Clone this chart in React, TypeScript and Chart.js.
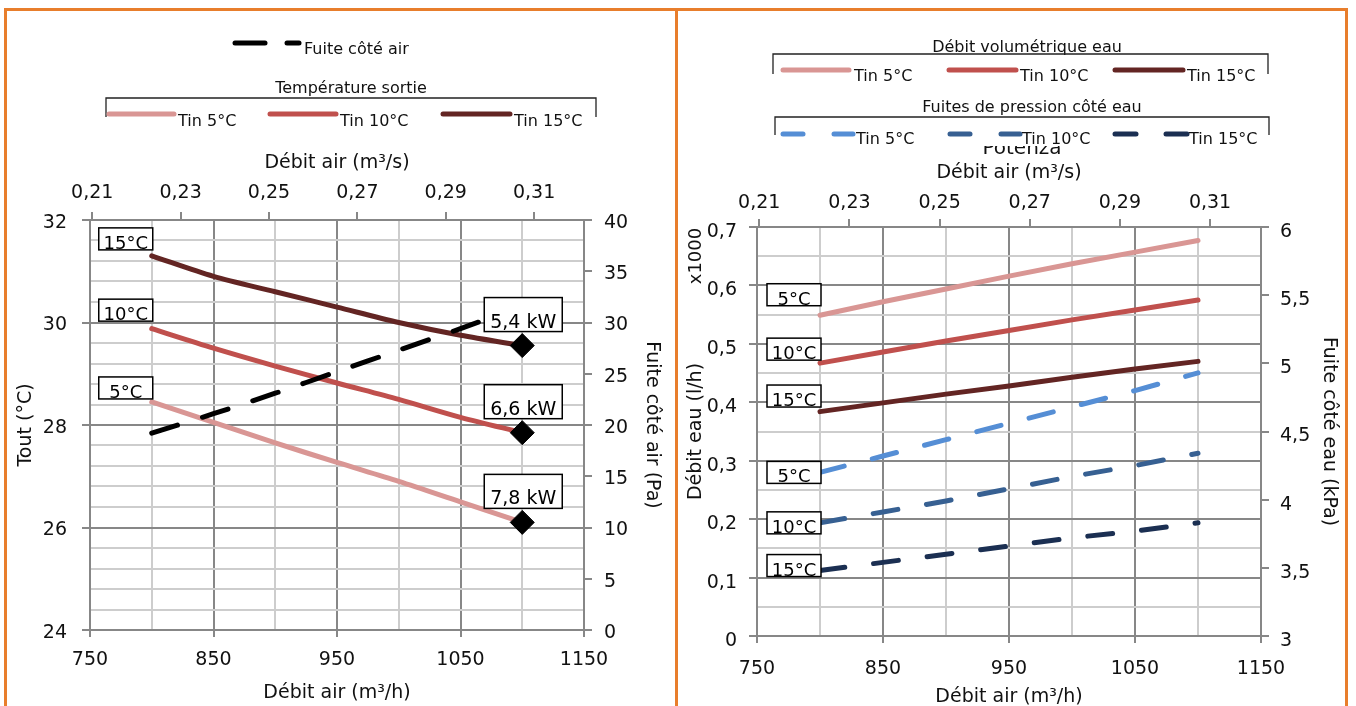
import React, { useEffect, useRef } from 'react';
import { Chart, registerables } from 'chart.js';

Chart.register(...registerables);

const FONT = '"DejaVu Sans", "Liberation Sans", Arial, sans-serif';
const TEXT = '#111111';
const GRID_MAJOR = '#878787';
const GRID_MINOR = '#CDCDCD';
const ORANGE = '#E87E2C';

const PINK = '#D99694';
const RED = '#C0504D';
const BROWN = '#632523';
const BLUE_L = '#558ED5';
const BLUE_M = '#376092';
const BLUE_D = '#1B2F52';

const TICK_SIZE = 19;
const TITLE_SIZE = 19;
const LEG_SIZE = 16;
const BOX_SIZE = 18;

// ---------- data ----------
const airFlow = [800, 850, 900, 950, 1000, 1050, 1100];

const toutTin5 = [28.45, 28.05, 27.65, 27.27, 26.9, 26.5, 26.1];
const toutTin10 = [29.88, 29.5, 29.15, 28.82, 28.5, 28.15, 27.85];
const toutTin15 = [31.3, 30.9, 30.6, 30.3, 30.0, 29.75, 29.55];
const fuiteAir = [19.2, 21.1, 23.1, 25.2, 27.3, 29.4, 31.6];
const powerLabels = ['7,8 kW', '6,6 kW', '5,4 kW'];

const debitEauTin5 = [0.549, 0.572, 0.594, 0.616, 0.637, 0.657, 0.677];
const debitEauTin10 = [0.467, 0.486, 0.505, 0.523, 0.541, 0.558, 0.575];
const debitEauTin15 = [0.384, 0.399, 0.414, 0.428, 0.443, 0.457, 0.47];
const fuiteEauTin5 = [4.2, 4.32, 4.44, 4.56, 4.68, 4.8, 4.93];
const fuiteEauTin10 = [3.83, 3.91, 3.99, 4.08, 4.17, 4.25, 4.34];
const fuiteEauTin15 = [3.48, 3.54, 3.6, 3.66, 3.72, 3.77, 3.83];

const seriesNames = ['Tin 5°C', 'Tin 10°C', 'Tin 15°C'];
const tempLabels = ['5°C', '10°C', '15°C'];

// ---------- ticks ----------
const xTicksM3h = [750, 850, 950, 1050, 1150];
const xMinorM3h = [800, 900, 1000, 1100];
const xTicksM3s = [0.21, 0.23, 0.25, 0.27, 0.29, 0.31];
const toutTicks = [24, 26, 28, 30, 32];
const fuiteAirTicks = [0, 5, 10, 15, 20, 25, 30, 35, 40];
const debitEauTicks = [0, 0.1, 0.2, 0.3, 0.4, 0.5, 0.6, 0.7];
const debitEauMinor = [0.05, 0.15, 0.25, 0.35, 0.45, 0.55, 0.65];
const fuiteEauTicks = [3, 3.5, 4, 4.5, 5, 5.5, 6];

const toutGrid: number[] = [];
for (let k = 0; k <= 20; k++) toutGrid.push(Math.round((24 + 0.4 * k) * 10) / 10);

const fmt = (v: number) => String(v).replace('.', ',');
const near = (arr: number[], v: number) => arr.some((t) => Math.abs(t - v) < 1e-6);
const pts = (ys: number[]) => airFlow.map((x, i) => ({ x, y: ys[i] }));

const gridColor = (majors: number[]) => (ctx: any) =>
  ctx.tick && near(majors, ctx.tick.value) ? GRID_MAJOR : GRID_MINOR;
const tickCol = (majors: number[]) => (ctx: any) =>
  ctx.tick && near(majors, ctx.tick.value) ? GRID_MAJOR : 'rgba(0,0,0,0)';

function bottomAxis(height: number, tickPad: number, titlePad: number) {
  const all = [...xTicksM3h, ...xMinorM3h].sort((a, b) => a - b);
  return {
    type: 'linear',
    position: 'bottom',
    min: 750,
    max: 1150,
    afterBuildTicks: (s: any) => {
      s.ticks = all.map((value) => ({ value }));
    },
    afterFit: (s: any) => {
      s.height = height;
    },
    ticks: {
      autoSkip: false,
      maxRotation: 0,
      padding: tickPad,
      color: TEXT,
      font: { size: TICK_SIZE },
      callback: (v: any) => (near(xTicksM3h, v) ? fmt(v) : ''),
    },
    grid: {
      color: gridColor(xTicksM3h),
      lineWidth: 2,
      tickLength: 7,
      tickWidth: 2,
      tickColor: tickCol(xTicksM3h),
    },
    border: { color: GRID_MAJOR, width: 2 },
    title: {
      display: true,
      text: 'Débit air (m³/h)',
      color: TEXT,
      font: { size: TITLE_SIZE },
      padding: { top: 0, bottom: titlePad },
    },
  };
}

function topAxis(height: number, tickPad: number, titlePad: number) {
  return {
    type: 'linear',
    position: 'top',
    min: 0.2095,
    max: 0.3213,
    afterBuildTicks: (s: any) => {
      s.ticks = xTicksM3s.map((value) => ({ value }));
    },
    afterFit: (s: any) => {
      s.height = height;
    },
    ticks: {
      autoSkip: false,
      maxRotation: 0,
      padding: tickPad,
      color: TEXT,
      font: { size: TICK_SIZE },
      callback: (v: any) => fmt(v),
    },
    grid: { drawOnChartArea: false, color: GRID_MAJOR, lineWidth: 2, tickLength: 8 },
    border: { color: GRID_MAJOR, width: 2 },
    title: {
      display: true,
      text: 'Débit air (m³/s)',
      color: TEXT,
      font: { size: TITLE_SIZE },
      padding: { top: titlePad, bottom: 0 },
    },
  };
}

function yAxis(o: {
  position: string;
  min: number;
  max: number;
  majors: number[];
  grid: number[];
  width: number;
  tickPad: number;
  labelOffset: number;
  title: string;
  titlePad: number;
  onArea: boolean;
}) {
  return {
    type: 'linear',
    position: o.position,
    min: o.min,
    max: o.max,
    afterBuildTicks: (s: any) => {
      s.ticks = o.grid.map((value) => ({ value }));
    },
    afterFit: (s: any) => {
      s.width = o.width;
    },
    ticks: {
      autoSkip: false,
      padding: o.tickPad,
      labelOffset: o.labelOffset,
      color: TEXT,
      font: { size: TICK_SIZE },
      callback: (v: any) => (near(o.majors, v) ? fmt(v) : ''),
    },
    grid: {
      drawOnChartArea: o.onArea,
      color: gridColor(o.majors),
      lineWidth: 2,
      tickLength: 8,
      tickWidth: 2,
      tickColor: tickCol(o.majors),
    },
    border: { color: GRID_MAJOR, width: 2 },
    title: {
      display: true,
      text: o.title,
      color: TEXT,
      font: { size: TITLE_SIZE },
      padding: { top: o.titlePad, bottom: 0 },
    },
  };
}

// ---------- drawing helpers ----------
function drawBox(ctx: CanvasRenderingContext2D, x: number, y: number, w: number, h: number, s: string, size: number, base: number) {
  ctx.save();
  ctx.fillStyle = '#ffffff';
  ctx.fillRect(x, y, w, h);
  ctx.strokeStyle = '#000000';
  ctx.lineWidth = 1.5;
  ctx.strokeRect(x, y, w, h);
  ctx.fillStyle = '#000000';
  ctx.font = `${size}px ${FONT}`;
  ctx.textAlign = 'center';
  ctx.textBaseline = 'alphabetic';
  ctx.fillText(s, x + w / 2, y + h - base);
  ctx.restore();
}

function text(ctx: CanvasRenderingContext2D, s: string, x: number, y: number, size: number, align: CanvasTextAlign = 'left') {
  ctx.save();
  ctx.fillStyle = TEXT;
  ctx.font = `${size}px ${FONT}`;
  ctx.textAlign = align;
  ctx.textBaseline = 'middle';
  ctx.fillText(s, x, y);
  ctx.restore();
}

function seg(ctx: CanvasRenderingContext2D, x1: number, x2: number, y: number, color: string) {
  ctx.save();
  ctx.strokeStyle = color;
  ctx.lineWidth = 5;
  ctx.lineCap = 'round';
  ctx.beginPath();
  ctx.moveTo(x1, y);
  ctx.lineTo(x2, y);
  ctx.stroke();
  ctx.restore();
}

function bracket(ctx: CanvasRenderingContext2D, x1: number, x2: number, y: number, yEnd: number) {
  ctx.save();
  ctx.strokeStyle = '#222222';
  ctx.lineWidth = 1.3;
  ctx.beginPath();
  ctx.moveTo(x1, yEnd);
  ctx.lineTo(x1, y);
  ctx.lineTo(x2, y);
  ctx.lineTo(x2, yEnd);
  ctx.stroke();
  ctx.restore();
}

// ---------- left chart ----------
function leftConfig() {
  const powerPts = [toutTin5, toutTin10, toutTin15].map((s) => ({ x: airFlow[airFlow.length - 1], y: s[s.length - 1] }));
  const lineDs = (label: string, ys: number[], color: string) => ({
    label,
    data: pts(ys),
    yAxisID: 'y',
    borderColor: color,
    backgroundColor: color,
    borderWidth: 5,
    borderCapStyle: 'round',
    borderJoinStyle: 'round',
    pointRadius: 0,
    tension: 0.3,
    order: 2,
  });
  const decor = {
    id: 'leftDecor',
    afterDatasetsDraw(chart: any) {
      const ctx = chart.ctx as CanvasRenderingContext2D;
      const dys = [-14, -18.5, -17];
      [2, 3, 4].forEach((di, k) => {
        const p = chart.getDatasetMeta(di).data[0];
        drawBox(ctx, p.x - 53, p.y + dys[k] - 11, 54, 22, tempLabels[k], BOX_SIZE, 1);
      });
      chart.getDatasetMeta(0).data.forEach((p: any, k: number) => {
        drawBox(ctx, p.x - 38, p.y - 48, 78, 34, powerLabels[k], 19, 4);
      });
    },
    afterDraw(chart: any) {
      const ctx = chart.ctx as CanvasRenderingContext2D;
      seg(ctx, 235, 265, 43, '#000000');
      seg(ctx, 287, 299, 43, '#000000');
      text(ctx, 'Fuite côté air', 304, 50, LEG_SIZE);
      text(ctx, 'Température sortie', 351, 89, LEG_SIZE, 'center');
      bracket(ctx, 106, 596, 98, 117);
      const cols = [PINK, RED, BROWN];
      const xs = [[109, 174, 178], [270, 336, 340], [443, 510, 514]];
      xs.forEach((a, k) => {
        seg(ctx, a[0], a[1], 114, cols[k]);
        text(ctx, seriesNames[k], a[2], 122, LEG_SIZE);
      });
    },
  };
  return {
    type: 'line',
    data: {
      datasets: [
        {
          label: 'Puissance',
          data: powerPts,
          yAxisID: 'y',
          showLine: false,
          pointStyle: 'rectRot',
          pointRadius: 12,
          pointBackgroundColor: '#000000',
          pointBorderColor: '#000000',
          pointBorderWidth: 1,
          order: 0,
        },
        {
          label: 'Fuite côté air',
          data: pts(fuiteAir),
          yAxisID: 'y2',
          borderColor: '#000000',
          backgroundColor: '#000000',
          borderWidth: 5,
          borderDash: [27, 26],
          borderCapStyle: 'round',
          pointRadius: 0,
          tension: 0.3,
          order: 1,
        },
        lineDs(seriesNames[0], toutTin5, PINK),
        lineDs(seriesNames[1], toutTin10, RED),
        lineDs(seriesNames[2], toutTin15, BROWN),
      ],
    },
    options: {
      responsive: false,
      maintainAspectRatio: false,
      animation: false,
      devicePixelRatio: 1,
      events: [],
      layout: { padding: 0 },
      plugins: { legend: { display: false }, tooltip: { enabled: false } },
      scales: {
        x: bottomAxis(76, 12, 1.6),
        x2: topAxis(220, 7.6, 151.6),
        y: yAxis({
          position: 'left', min: 24, max: 32, majors: toutTicks, grid: toutGrid, width: 90,
          tickPad: 15, labelOffset: 3, title: 'Tout (°C)', titlePad: 14.6, onArea: true,
        }),
        y2: yAxis({
          position: 'right', min: 0, max: 40, majors: fuiteAirTicks, grid: fuiteAirTicks, width: 94,
          tickPad: 12, labelOffset: 3, title: 'Fuite côté air (Pa)', titlePad: 14.6, onArea: false,
        }),
      },
    },
    plugins: [decor],
  };
}

// ---------- right chart ----------
function rightConfig() {
  const ds = (label: string, ys: number[], color: string, axis: string, dashed: boolean) => ({
    label,
    data: pts(ys),
    yAxisID: axis,
    borderColor: color,
    backgroundColor: color,
    borderWidth: 5,
    borderCapStyle: 'round',
    borderJoinStyle: 'round',
    borderDash: dashed ? [25, 29] : [],
    pointRadius: 0,
    tension: 0,
  });
  const decor = {
    id: 'rightDecor',
    afterDatasetsDraw(chart: any) {
      const ctx = chart.ctx as CanvasRenderingContext2D;
      const dys = [-20.5, -14, -15.6, 0, 0, -5];
      for (let di = 0; di < 6; di++) {
        const p = chart.getDatasetMeta(di).data[0];
        drawBox(ctx, p.x - 53, p.y + dys[di] - 11, 54, 22, tempLabels[di % 3], BOX_SIZE, 1);
      }
    },
    afterDraw(chart: any) {
      const ctx = chart.ctx as CanvasRenderingContext2D;
      // chart title hidden behind the legend
      ctx.save();
      ctx.fillStyle = TEXT;
      ctx.font = `20px ${FONT}`;
      ctx.textAlign = 'center';
      ctx.textBaseline = 'alphabetic';
      ctx.fillText('Potenza', 344, 154);
      ctx.fillStyle = '#ffffff';
      ctx.fillRect(90, 0, 506, 146);
      ctx.restore();

      text(ctx, 'Débit volumétrique eau', 349, 48, LEG_SIZE, 'center');
      bracket(ctx, 95, 590, 54, 74);
      const solid = [PINK, RED, BROWN];
      const sx = [[105, 171, 176], [271, 338, 342], [437, 505, 509]];
      sx.forEach((a, k) => {
        seg(ctx, a[0], a[1], 70, solid[k]);
        text(ctx, seriesNames[k], a[2], 77, LEG_SIZE);
      });

      text(ctx, 'Fuites de pression côté eau', 354, 108, LEG_SIZE, 'center');
      bracket(ctx, 97, 591, 117, 135);
      const blues = [BLUE_L, BLUE_M, BLUE_D];
      const bx = [[105, 125, 156, 175, 178], [272, 292, 323, 342, 344], [437, 458, 488, 509, 511]];
      bx.forEach((a, k) => {
        seg(ctx, a[0], a[1], 134, blues[k]);
        seg(ctx, a[2], a[3], 134, blues[k]);
        text(ctx, seriesNames[k], a[4], 140, LEG_SIZE);
      });

      ctx.save();
      ctx.translate(18, 256);
      ctx.rotate(-Math.PI / 2);
      text(ctx, 'x1000', 0, 0, 18, 'center');
      ctx.restore();
    },
  };
  return {
    type: 'line',
    data: {
      datasets: [
        ds(seriesNames[0], debitEauTin5, PINK, 'y', false),
        ds(seriesNames[1], debitEauTin10, RED, 'y', false),
        ds(seriesNames[2], debitEauTin15, BROWN, 'y', false),
        ds(seriesNames[0], fuiteEauTin5, BLUE_L, 'y2', true),
        ds(seriesNames[1], fuiteEauTin10, BLUE_M, 'y2', true),
        ds(seriesNames[2], fuiteEauTin15, BLUE_D, 'y2', true),
      ],
    },
    options: {
      responsive: false,
      maintainAspectRatio: false,
      animation: false,
      devicePixelRatio: 1,
      events: [],
      layout: { padding: 0 },
      plugins: { legend: { display: false }, tooltip: { enabled: false } },
      scales: {
        x: bottomAxis(70, 15, -2),
        x2: topAxis(227, 4.6, 161.6),
        y: yAxis({
          position: 'left', min: 0, max: 0.7, majors: debitEauTicks,
          grid: [...debitEauTicks, ...debitEauMinor].sort((a, b) => a - b), width: 79,
          tickPad: 12, labelOffset: 5, title: 'Débit eau (l/h)', titlePad: 6.6, onArea: true,
        }),
        y2: yAxis({
          position: 'right', min: 3, max: 6, majors: fuiteEauTicks, grid: fuiteEauTicks, width: 95,
          tickPad: 11, labelOffset: 5, title: 'Fuite côté eau (kPa)', titlePad: 15.6, onArea: false,
        }),
      },
    },
    plugins: [decor],
  };
}

export default function App() {
  const leftRef = useRef<HTMLCanvasElement>(null);
  const rightRef = useRef<HTMLCanvasElement>(null);

  useEffect(() => {
    Chart.defaults.font.family = FONT;
    Chart.defaults.color = TEXT;
    const c1 = new Chart(leftRef.current as HTMLCanvasElement, leftConfig() as any);
    const c2 = new Chart(rightRef.current as HTMLCanvasElement, rightConfig() as any);
    return () => {
      c1.destroy();
      c2.destroy();
    };
  }, []);

  const bar = (left: number, top: number, width: number, height: number) => (
    <div style={{ position: 'absolute', left, top, width, height, background: ORANGE }} />
  );

  return (
    <div style={{ position: 'fixed', left: 0, top: 0, width: 1356, height: 706, overflow: 'hidden', background: '#ffffff' }}>
      <canvas ref={leftRef} width={678} height={706} style={{ position: 'absolute', left: 0, top: 0, width: 678, height: 706 }} />
      <canvas ref={rightRef} width={678} height={706} style={{ position: 'absolute', left: 678, top: 0, width: 678, height: 706 }} />
      {bar(4, 8, 1344, 3)}
      {bar(4, 8, 3, 698)}
      {bar(675, 8, 3, 698)}
      {bar(1345, 8, 3, 698)}
    </div>
  );
}
